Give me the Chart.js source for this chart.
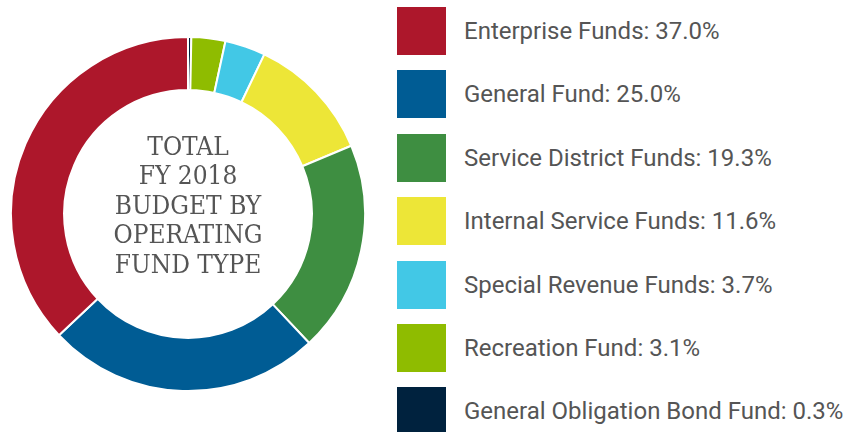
<!DOCTYPE html>
<html>
<head>
<meta charset="utf-8">
<script src="https://cdn.jsdelivr.net/npm/chart.js@4"></script>
<style>
  body { margin: 0; width: 848px; height: 432px; background: #fff; overflow: hidden; position: relative; }
  #chartBox { position: absolute; left: 10px; top: 36px; width: 356px; height: 356px; }
  #legend { position: absolute; left: 397px; top: 7px; }
  .item { position: absolute; left: 0; height: 48px; white-space: nowrap; }
  .item span.box { position: absolute; left: 0; top: 0; width: 49px; height: 48px; }
  .item span.txt { position: absolute; left: 67px; top: 0; line-height: 48px; font-family: Roboto, sans-serif; font-size: 24px; color: #555; }
</style>
</head>
<body>
<div id="chartBox"><canvas id="fundChart"></canvas></div>
<div id="legend"></div>
<script>
// slices in drawing order (clockwise from 12 o'clock)
const funds = ['General Obligation Bond Fund', 'Recreation Fund', 'Special Revenue Funds', 'Internal Service Funds', 'Service District Funds', 'General Fund', 'Enterprise Funds'];
const shares = [0.3, 3.1, 3.7, 11.6, 19.3, 25.0, 37.0];
const colors = ['#00223e', '#8fbc00', '#42c8e6', '#ede637', '#3e8e41', '#005c94', '#ad172b'];
const centerLines = ['TOTAL', 'FY 2018', 'BUDGET BY', 'OPERATING', 'FUND TYPE'];

// legend goes biggest first
const legend = document.getElementById('legend');
const order = [6, 5, 4, 3, 2, 1, 0];
order.forEach((i, row) => {
    const div = document.createElement('div');
    div.className = 'item';
    div.style.top = (row * 63.4) + 'px';
    div.innerHTML = `<span class="box" style="background:${colors[i]}"></span><span class="txt">${funds[i]}: ${shares[i].toFixed(1)}%</span>`;
    legend.appendChild(div);
});

const centerText = {
    id: 'centerText',
    afterDraw(chart) {
        const ctx = chart.ctx;
        const meta = chart.getDatasetMeta(0).data[0];
        const x = meta.x, y = meta.y;
        ctx.save();
        ctx.fillStyle = '#555';
        ctx.font = '26px "DejaVu Serif Condensed", "DejaVu Serif", serif';
        ctx.textAlign = 'center';
        ctx.textBaseline = 'middle';
        const step = 29.5;
        centerLines.forEach((t, k) => {
            ctx.fillText(t, x, y - 66 + k * step);
        });
        ctx.restore();
    }
};

new Chart(document.getElementById('fundChart'), {
    type: 'doughnut',
    data: {
        labels: funds,
        datasets: [{
            data: shares,
            backgroundColor: colors,
            borderColor: '#fff',
            borderWidth: 2
        }]
    },
    options: {
        responsive: true,
        maintainAspectRatio: false,
        animation: false,
        cutout: '70%',
        layout: { padding: 0 },
        plugins: {
            legend: { display: false },
            tooltip: { enabled: false }
        }
    },
    plugins: [centerText]
});
</script>
</body>
</html>
